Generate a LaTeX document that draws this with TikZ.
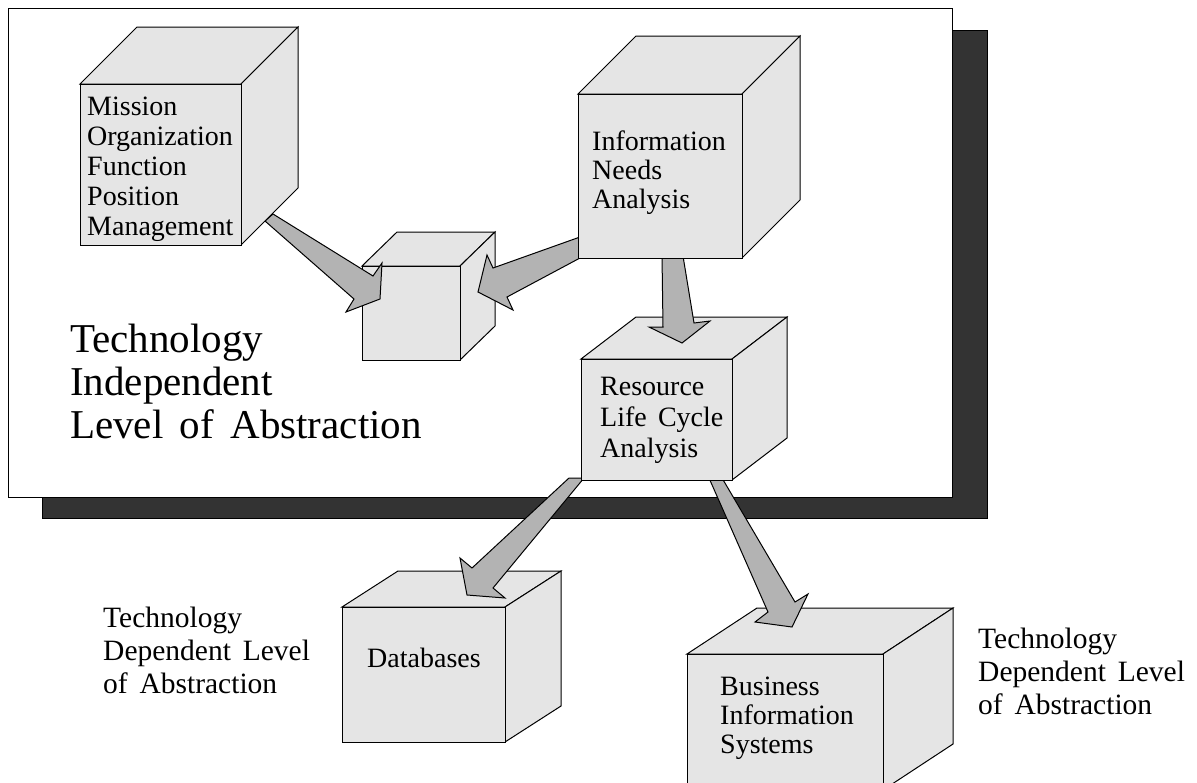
\documentclass[tikz,border=0pt]{standalone}
\usepackage{fontspec}
\setmainfont{Liberation Serif}[WordSpace=1.6]
\definecolor{cubegray}{RGB}{229,229,229}
\definecolor{arrowgray}{RGB}{179,179,179}
\definecolor{shadowgray}{RGB}{51,51,51}
% stacked lines, baseline at the first line
\newcommand\linesof[1]{\begin{tabular}[t]{@{}l@{}}#1\end{tabular}}
% cube: name, x, y (front top-left), width, height, depth dx, depth dy
\newcommand\boxcube[7]{%
  \draw[face] (#2,#3) -- ++(#6,-#7) -- ++(#4,0) -- ++(-#6,#7) -- cycle;
  \draw[face] (#2+#4,#3) -- ++(#6,-#7) -- ++(0,#5) -- ++(-#6,#7) -- cycle;
  \node[face, anchor=north west, inner sep=0pt, outer sep=0pt,
        minimum width=#4pt, minimum height=#5pt] (#1) at (#2,#3) {};
}
\begin{document}
\begin{tikzpicture}[x=1pt,y=-1pt,
  face/.style={draw=black, fill=cubegray, line width=1pt, line join=miter},
  blockarrow/.style={draw=black, fill=arrowgray, line width=1pt, line join=miter},
  lbl/.style={anchor=base west, inner sep=0pt, font=\fontsize{28}{30}\selectfont},
  biglbl/.style={anchor=base west, inner sep=0pt, font=\fontsize{41}{43}\selectfont},
  sidelbl/.style={anchor=base west, inner sep=0pt, font=\fontsize{29.5}{33}\selectfont}
]
\useasboundingbox (0,0) rectangle (1197,782);

% drop shadow and panel
\draw[fill=shadowgray, draw=black, line width=0.8pt] (42,30) rectangle (987,518);
\draw[fill=white, draw=black, line width=1pt] (8,8) rectangle (952,497);

% target cubes
\boxcube{core}{362}{266}{98}{94}{35}{34}
\boxcube{db}{342}{607}{163}{135}{56}{36}
\boxcube{bis}{687}{654}{196}{136}{70}{46}

% arrows leaving the resource cube
\draw[blockarrow] (584,478) -- (493,588) -- (505,598) -- (467,595) -- (460,558) -- (472,568) -- (569,478) -- cycle;
\draw[blockarrow] (709,478) -- (768,612) -- (755,622) -- (792,627) -- (808,594) -- (795,602) -- (722,478) -- cycle;

\boxcube{rlc}{581}{359}{151}{121}{55}{42}

% arrows into the core cube and the resource cube
\draw[blockarrow] (662,256) -- (663,327) -- (649,327) -- (682,343) -- (710,321) -- (694,323) -- (683,256) -- cycle;
\draw[blockarrow] (273,214) -- (373,276) -- (382,263) -- (380,299) -- (346,312) -- (354,299) -- (265,221) -- cycle;
\draw[blockarrow] (580,237) -- (493,268) -- (487,255) -- (478,292) -- (513,310) -- (507,297) -- (580,258) -- cycle;

% source cubes
\boxcube{mofp}{80}{84}{161}{161}{57}{57}
\boxcube{ina}{578}{94}{164}{164}{58}{58}

% cube labels
\node[lbl] (mofptext) at (87,115) {\linesof{Mission\\Organization\\Function\\Position\\Management}};
\node[lbl, font=\fontsize{28}{29}\selectfont] (inatext) at (592,150) {\linesof{Information\\Needs\\Analysis}};
\node[lbl, font=\fontsize{28}{31}\selectfont] (rlctext) at (600,395) {\linesof{Resource\\Life Cycle\\Analysis}};
\node[lbl] (dbtext) at (367,667) {Databases};
\node[lbl, font=\fontsize{28}{29}\selectfont] (bistext) at (720,695) {\linesof{Business\\Information\\Systems}};

% level captions
\node[biglbl] (indep) at (70,352) {\linesof{Technology\\Independent\\Level of Abstraction}};
\node[sidelbl] (depleft) at (103,627) {\linesof{Technology\\Dependent Level\\of Abstraction}};
\node[sidelbl] (depright) at (978,648) {\linesof{Technology\\Dependent Level\\of Abstraction}};
\end{tikzpicture}
\end{document}
